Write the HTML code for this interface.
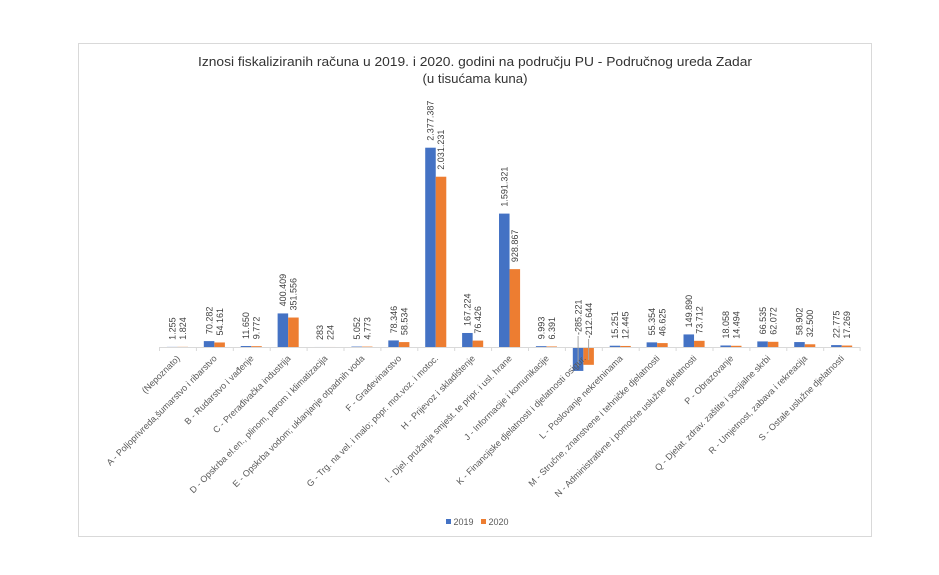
<!DOCTYPE html>
<html>
<head>
<meta charset="utf-8">
<style>
html,body{margin:0;padding:0;background:#fff;}
body{width:939px;height:575px;overflow:hidden;}
svg{display:block;font-family:"Liberation Sans","DejaVu Sans",sans-serif;}
.dl{font-size:9px;fill:#404040;}
.cl{font-size:9px;fill:#595959;}
</style>
</head>
<body>
<svg width="939" height="575" viewBox="0 0 939 575" xmlns="http://www.w3.org/2000/svg">
<rect x="0" y="0" width="939" height="575" fill="#fff"/>
<rect x="78.5" y="43.5" width="793" height="493" fill="#fff" stroke="#d9d9d9" stroke-width="1"/>

<!-- Title -->
<text x="475" y="66" text-anchor="middle" font-size="13" fill="#333" textLength="554" lengthAdjust="spacingAndGlyphs">Iznosi fiskaliziranih računa u 2019. i 2020. godini na području PU - Područnog ureda Zadar</text>
<text x="475" y="83" text-anchor="middle" font-size="13" fill="#333" textLength="105" lengthAdjust="spacingAndGlyphs">(u tisućama kuna)</text>

<!-- Bars 2019 -->
<g fill="#4472C4">
<rect x="166.91" y="346.895" width="10.54" height="0.105"/>
<rect x="203.81" y="341.11" width="10.54" height="5.89"/>
<rect x="240.71" y="346.023" width="10.54" height="0.977"/>
<rect x="277.61" y="313.43" width="10.54" height="33.57"/>
<rect x="314.51" y="346.976" width="10.54" height="0.024"/>
<rect x="351.41" y="346.576" width="10.54" height="0.424"/>
<rect x="388.31" y="340.43" width="10.54" height="6.57"/>
<rect x="425.21" y="147.7" width="10.54" height="199.3"/>
<rect x="462.11" y="332.98" width="10.54" height="14.02"/>
<rect x="499.01" y="213.6" width="10.54" height="133.4"/>
<rect x="535.91" y="346.162" width="10.54" height="0.838"/>
<rect x="572.81" y="347" width="10.54" height="23.91"/>
<rect x="609.71" y="345.721" width="10.54" height="1.279"/>
<rect x="646.61" y="342.36" width="10.54" height="4.64"/>
<rect x="683.51" y="334.43" width="10.54" height="12.57"/>
<rect x="720.41" y="345.486" width="10.54" height="1.514"/>
<rect x="757.31" y="341.42" width="10.54" height="5.58"/>
<rect x="794.21" y="342.06" width="10.54" height="4.94"/>
<rect x="831.11" y="345.091" width="10.54" height="1.909"/>
</g>
<!-- Bars 2020 -->
<g fill="#ED7D31">
<rect x="177.45" y="346.847" width="10.54" height="0.153"/>
<rect x="214.35" y="342.46" width="10.54" height="4.54"/>
<rect x="251.25" y="346.181" width="10.54" height="0.819"/>
<rect x="288.15" y="317.53" width="10.54" height="29.47"/>
<rect x="325.05" y="346.981" width="10.54" height="0.019"/>
<rect x="361.95" y="346.6" width="10.54" height="0.4"/>
<rect x="398.85" y="342.09" width="10.54" height="4.91"/>
<rect x="435.75" y="176.72" width="10.54" height="170.28"/>
<rect x="472.65" y="340.59" width="10.54" height="6.41"/>
<rect x="509.55" y="269.13" width="10.54" height="77.87"/>
<rect x="546.45" y="346.464" width="10.54" height="0.536"/>
<rect x="583.35" y="347" width="10.54" height="17.83"/>
<rect x="620.25" y="345.957" width="10.54" height="1.043"/>
<rect x="657.15" y="343.09" width="10.54" height="3.91"/>
<rect x="694.05" y="340.82" width="10.54" height="6.18"/>
<rect x="730.95" y="345.785" width="10.54" height="1.215"/>
<rect x="767.85" y="341.8" width="10.54" height="5.2"/>
<rect x="804.75" y="344.28" width="10.54" height="2.72"/>
<rect x="841.65" y="345.552" width="10.54" height="1.448"/>
</g>

<!-- Axis -->
<line x1="159" y1="347.5" x2="860.1" y2="347.5" stroke="#d9d9d9" stroke-width="1"/>
<g stroke="#d9d9d9" stroke-width="1">
<line x1="159.5" y1="347" x2="159.5" y2="351"/>
<line x1="196.4" y1="347" x2="196.4" y2="351"/>
<line x1="233.3" y1="347" x2="233.3" y2="351"/>
<line x1="270.2" y1="347" x2="270.2" y2="351"/>
<line x1="307.1" y1="347" x2="307.1" y2="351"/>
<line x1="344" y1="347" x2="344" y2="351"/>
<line x1="380.9" y1="347" x2="380.9" y2="351"/>
<line x1="417.8" y1="347" x2="417.8" y2="351"/>
<line x1="454.7" y1="347" x2="454.7" y2="351"/>
<line x1="491.6" y1="347" x2="491.6" y2="351"/>
<line x1="528.5" y1="347" x2="528.5" y2="351"/>
<line x1="565.4" y1="347" x2="565.4" y2="351"/>
<line x1="602.3" y1="347" x2="602.3" y2="351"/>
<line x1="639.2" y1="347" x2="639.2" y2="351"/>
<line x1="676.1" y1="347" x2="676.1" y2="351"/>
<line x1="713" y1="347" x2="713" y2="351"/>
<line x1="749.9" y1="347" x2="749.9" y2="351"/>
<line x1="786.8" y1="347" x2="786.8" y2="351"/>
<line x1="823.7" y1="347" x2="823.7" y2="351"/>
<line x1="860.1" y1="347" x2="860.1" y2="351"/>
</g>

<!-- Leader lines for K -->
<line x1="578.1" y1="336" x2="578.1" y2="367" stroke="#a6a6a6" stroke-width="1"/>
<line x1="588.6" y1="339" x2="588.6" y2="360" stroke="#a6a6a6" stroke-width="1"/>

<!-- Data labels 2019 -->
<g class="dl">
<text transform="translate(175.4,339.9) rotate(-90)">1.255</text>
<text transform="translate(212.3,334.1) rotate(-90)">70.282</text>
<text transform="translate(249.2,339) rotate(-90)">11.650</text>
<text transform="translate(286.1,306.4) rotate(-90)">400.409</text>
<text transform="translate(323,340) rotate(-90)">283</text>
<text transform="translate(359.9,339.6) rotate(-90)">5.052</text>
<text transform="translate(396.8,333.4) rotate(-90)">78.346</text>
<text transform="translate(433.7,140.7) rotate(-90)">2.377.387</text>
<text transform="translate(470.6,326) rotate(-90)">167.224</text>
<text transform="translate(507.5,206.6) rotate(-90)">1.591.321</text>
<text transform="translate(544.4,339.2) rotate(-90)">9.993</text>
<text transform="translate(581.3,335) rotate(-90)">-285.221</text>
<text transform="translate(618.2,338.7) rotate(-90)">15.251</text>
<text transform="translate(655.1,335.4) rotate(-90)">55.354</text>
<text transform="translate(692,327.4) rotate(-90)">149.890</text>
<text transform="translate(728.9,338.5) rotate(-90)">18.058</text>
<text transform="translate(765.8,334.4) rotate(-90)">66.535</text>
<text transform="translate(802.7,335.1) rotate(-90)">58.902</text>
<text transform="translate(839.6,338.1) rotate(-90)">22.775</text>
</g>
<!-- Data labels 2020 -->
<g class="dl">
<text transform="translate(185.9,339.8) rotate(-90)">1.824</text>
<text transform="translate(222.8,335.5) rotate(-90)">54.161</text>
<text transform="translate(259.7,339.2) rotate(-90)">9.772</text>
<text transform="translate(296.6,310.5) rotate(-90)">351.556</text>
<text transform="translate(333.5,340) rotate(-90)">224</text>
<text transform="translate(370.4,339.6) rotate(-90)">4.773</text>
<text transform="translate(407.3,335.1) rotate(-90)">58.534</text>
<text transform="translate(444.2,169.7) rotate(-90)">2.031.231</text>
<text transform="translate(481.1,333.6) rotate(-90)">76.426</text>
<text transform="translate(518,262.1) rotate(-90)">928.867</text>
<text transform="translate(554.9,339.5) rotate(-90)">6.391</text>
<text transform="translate(591.8,338.3) rotate(-90)">-212.644</text>
<text transform="translate(628.7,339) rotate(-90)">12.445</text>
<text transform="translate(665.6,336.1) rotate(-90)">46.625</text>
<text transform="translate(702.5,333.8) rotate(-90)">73.712</text>
<text transform="translate(739.4,338.8) rotate(-90)">14.494</text>
<text transform="translate(776.3,334.8) rotate(-90)">62.072</text>
<text transform="translate(813.2,337.3) rotate(-90)">32.500</text>
<text transform="translate(850.1,338.6) rotate(-90)">17.269</text>
</g>

<!-- Category labels -->
<g class="cl" text-anchor="end">
<text transform="translate(180.5,359) rotate(-45)">(Nepoznato)</text>
<text transform="translate(217.4,359) rotate(-45)">A - Poljoprivreda,šumarstvo i ribarstvo</text>
<text transform="translate(254.3,359) rotate(-45)">B - Rudarstvo i vađenje</text>
<text transform="translate(291.2,359) rotate(-45)">C - Prerađivačka industrija</text>
<text transform="translate(328.1,359) rotate(-45)">D - Opskrba el.en., plinom, parom i klimatizacija</text>
<text transform="translate(365,359) rotate(-45)">E - Opskrba vodom; uklanjanje otpadnih voda</text>
<text transform="translate(401.9,359) rotate(-45)">F - Građevinarstvo</text>
<text transform="translate(438.8,359) rotate(-45)">G - Trg. na vel. i malo; popr. mot.voz. i motoc.</text>
<text transform="translate(475.7,359) rotate(-45)">H - Prijevoz i skladištenje</text>
<text transform="translate(512.6,359) rotate(-45)">I - Djel. pružanja smješt. te pripr. i usl. hrane</text>
<text transform="translate(549.5,359) rotate(-45)">J - Informacije i komunikacije</text>
<text transform="translate(586.4,359) rotate(-45)">K - Financijske djelatnosti i djelatnosti osigur.</text>
<text transform="translate(623.3,359) rotate(-45)">L - Poslovanje nekretninama</text>
<text transform="translate(660.2,359) rotate(-45)">M - Stručne, znanstvene i tehničke djelatnosti</text>
<text transform="translate(697.1,359) rotate(-45)">N - Administrativne i pomoćne uslužne djelatnosti</text>
<text transform="translate(734,359) rotate(-45)">P - Obrazovanje</text>
<text transform="translate(770.9,359) rotate(-45)">Q - Djelat. zdrav. zaštite i socijalne skrbi</text>
<text transform="translate(807.8,359) rotate(-45)">R - Umjetnost, zabava i rekreacija</text>
<text transform="translate(844.7,359) rotate(-45)">S - Ostale uslužne djelatnosti</text>
</g>

<!-- Legend -->
<rect x="446" y="519" width="5" height="5" fill="#4472C4"/>
<text x="453.5" y="524.8" font-size="9" fill="#595959">2019</text>
<rect x="481" y="519" width="5" height="5" fill="#ED7D31"/>
<text x="488.5" y="524.8" font-size="9" fill="#595959">2020</text>
</svg>
</body>
</html>
